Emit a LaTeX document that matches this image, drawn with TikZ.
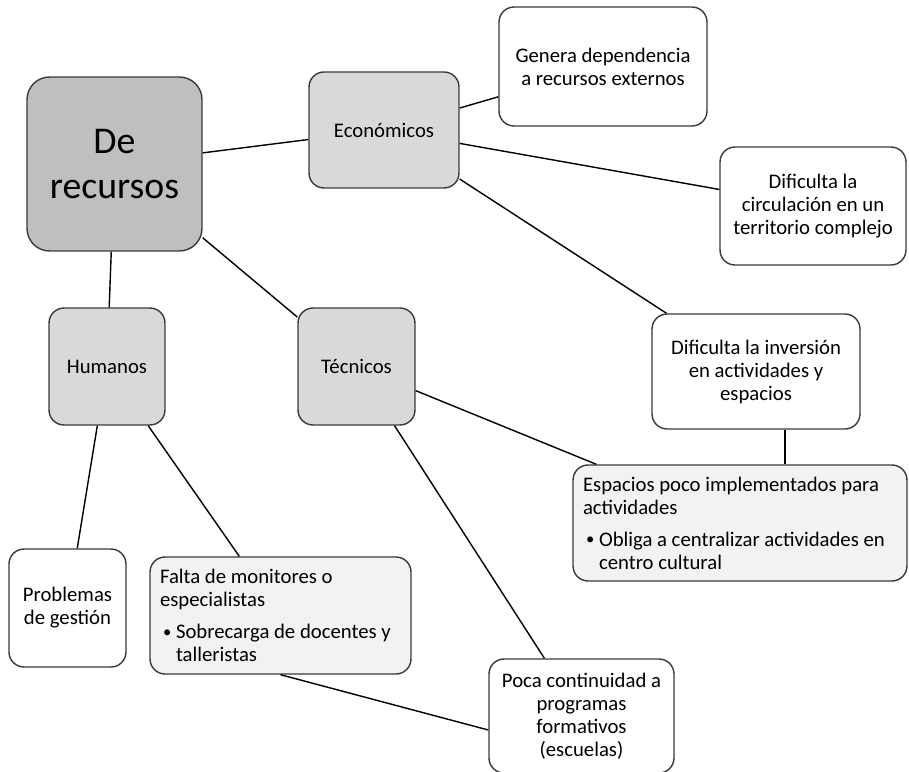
\documentclass[tikz,border=0pt]{standalone}
\usepackage{fontspec}
\setmainfont{Carlito}
\usepackage{tikz}
\usetikzlibrary{positioning,calc}
\definecolor{maingray}{HTML}{BFBFBF}
\definecolor{catgray}{HTML}{D9D9D9}
\definecolor{subgray}{HTML}{F2F2F2}
\definecolor{edgegray}{HTML}{3A3A3A}
\newcommand{\bul}{\hspace*{0.06cm}\makebox[0.26cm][l]{\raisebox{0.06em}{\scalebox{0.8}{\textbullet}}}}
\newcommand{\bulind}{\hspace*{0.32cm}}

\begin{document}
\begin{tikzpicture}[
  x=0.02cm, y=-0.02cm,
  every node/.style={font=\fontsize{11.8}{13.1}\selectfont},
  box/.style={draw=edgegray, line width=0.8pt, rounded corners=0.3cm,
    inner sep=0pt, align=center},
  mainbox/.style={box, fill=maingray, rounded corners=0.45cm,
    font=\fontsize{21.5}{25.6}\selectfont},
  catbox/.style={box, fill=catgray},
  notebox/.style={box, fill=white},
  subbox/.style={box, fill=subgray, align=flush left},
  link/.style={draw=black, line width=0.8pt}
]
  \useasboundingbox (0,0) rectangle (909,771);
  % root and categories
  \node[mainbox, minimum width=3.5cm, minimum height=3.48cm] (main) at (114.5,164) {De\\recursos};
  \node[catbox, minimum width=3.0cm, minimum height=2.32cm] (eco) at (384,130) {Económicos};
  \node[catbox, minimum width=2.32cm, minimum height=2.34cm] (hum) at (107,366.5) {Humanos};
  \node[catbox, minimum width=2.34cm, minimum height=2.34cm] (tec) at (356.5,366.5) {Técnicos};
  % economic effects
  \node[notebox, minimum width=4.16cm, minimum height=2.38cm] (gen) at (603,66.5)
    {Genera dependencia\\a recursos externos};
  \node[notebox, minimum width=3.72cm, minimum height=2.36cm] (circ) at (813,206)
    {Dificulta la\\circulación en un\\territorio complejo};
  \node[notebox, minimum width=4.16cm, minimum height=2.3cm] (inv) at (756,371.5)
    {Dificulta la inversión\\en actividades y\\espacios};
  \node[subbox, minimum width=6.68cm, minimum height=2.32cm, text width=6.28cm] (esp) at (740,523)
    {Espacios poco implementados para\\actividades\\[0.18cm]
     \bul Obliga a centralizar actividades en\\\bulind centro cultural};
  % human and technical effects
  \node[notebox, minimum width=2.34cm, minimum height=2.36cm] (prob) at (67.5,608)
    {Problemas\\de gestión};
  \node[subbox, minimum width=5.22cm, minimum height=2.34cm, text width=4.82cm] (falta) at (280.5,615.5)
    {Falta de monitores o\\especialistas\\[0.18cm]
     \bul Sobrecarga de docentes y\\\bulind talleristas};
  \node[notebox, minimum width=3.7cm, minimum height=2.28cm] (poca) at (581.5,716)
    {Poca continuidad a\\programas\\formativos\\(escuelas)};
  % connectors
  \draw[link] (main) -- (eco);
  \draw[link] (main) -- (hum);
  \draw[link] (main) -- (tec);
  \draw[link] (eco) -- (gen);
  \draw[link] (eco) -- (circ);
  \draw[link] (eco) -- (inv);
  \draw[link] (hum) -- (prob);
  \draw[link] (hum) -- (falta);
  \draw[link] (tec) -- (esp);
  \draw[link] (tec) -- (poca);
  \draw[link] ([xshift=0.58cm]inv.south) -- ([xshift=0.58cm]inv.south |- esp.north);
  \draw[link] (falta.south) -- ([yshift=-0.28cm]poca.west);
\end{tikzpicture}
\end{document}
